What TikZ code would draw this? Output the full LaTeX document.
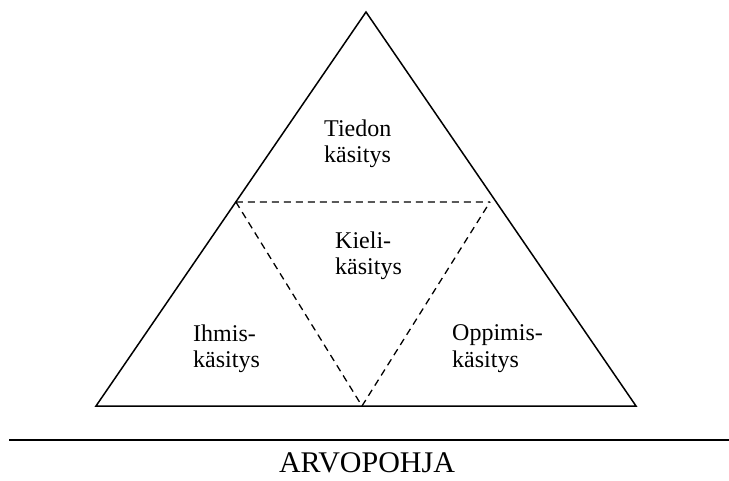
\documentclass[tikz,border=0pt]{standalone}
\usepackage{fontspec}
\setmainfont{Liberation Serif}
\usetikzlibrary{calc}

\tikzset{
 lbl/.style={align=left, anchor=north west, inner sep=0, font=\fontsize{24}{26.5}\selectfont},
 dashline/.style={line width=1.3pt, dash pattern=on 7pt off 5pt}
}

\begin{document}
\begin{tikzpicture}[x=1pt,y=-1pt]
\useasboundingbox (0,0) rectangle (729,481);
\coordinate (A) at (366,12);
\coordinate (L) at (96,406);
\coordinate (R) at (636,406);
\coordinate (ML) at ($(A)!0.482!(L)$);
\coordinate (MR) at (490,202);
\coordinate (MB) at (362,406);
\draw[line width=1.5pt, line join=miter] (L)--(A)--(R)--cycle;
\draw[dashline] (ML)--(MR);
\draw[dashline] (ML)--(MB)--(MR);
\node[lbl] (tieto) at (324,119.5) {Tiedon\\käsitys};
\node[lbl] (kieli) at (335,231.5) {Kieli-\\käsitys};
\node[lbl] (ihminen) at (193,324.5) {Ihmis-\\käsitys};
\node[lbl] (oppi) at (452,324.5) {Oppimis-\\käsitys};
\coordinate (rl) at (9,440);
\coordinate (rr) at (729,440);
\draw[line width=1.8pt] (rl)--(rr);
\node[font=\fontsize{30}{30}\selectfont, anchor=base, inner sep=0] (arvo) at (367,472) {ARVOPOHJA};
\end{tikzpicture}
\end{document}
